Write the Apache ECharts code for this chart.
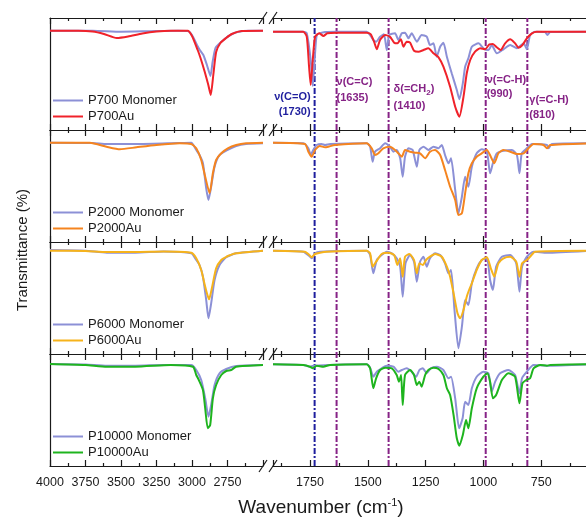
<!DOCTYPE html>
<html>
<head>
<meta charset="utf-8">
<title>FTIR spectra</title>
<script src="https://cdn.jsdelivr.net/npm/echarts@6/dist/echarts.min.js"></script>
<style>
  html, body { margin: 0; padding: 0; background: #fff; }
  #chart { width: 586px; height: 520px; }
</style>
</head>
<body>
<div id="chart"></div>
<script>
// ==================== data ====================
// samples (one panel each) and their Au curve colours
const samples = ['P700', 'P2000', 'P6000', 'P10000'];
const auColors = ['#f0222a', '#f5841f', '#f6b31b', '#1eb41e'];
const monomerColor = '#8c90d6';

// tick labels shown on the two halves of the broken axis
const leftTickLabels = [4000, 3750, 3500, 3250, 3000, 2750];
const rightTickLabels = [1750, 1500, 1250, 1000, 750];

// marked absorption bands
const bandWavenumbers = [1730, 1635, 1410, 990, 810];
const bandNames = ['ν(C=O)', 'ν(C=C)', 'δ(=CH2)', 'ν(=C-H)', 'γ(=C-H)'];

// spectra: [wavenumber (cm-1), transmittance (a.u., panel scale 0-112)]
const p700MonoLeft = [[4000, 99.3], [3700, 99.3], [3500, 98.3], [3300, 98.8], [3100, 99.3], [3030, 99], [3000, 95], [2965, 85], [2945, 80], [2920, 75], [2895, 65], [2870, 54], [2855, 68], [2835, 82], [2810, 86], [2770, 91], [2730, 95], [2680, 98], [2600, 99.3], [2500, 99.3]];
const p700AuLeft = [[4000, 99.3], [3800, 99.3], [3700, 98.5], [3620, 96], [3530, 92], [3450, 93.5], [3350, 96.5], [3250, 98.5], [3150, 99.3], [3030, 99.3], [3000, 94], [2960, 80], [2940, 72], [2910, 58], [2885, 45], [2868, 35], [2850, 55], [2830, 78], [2800, 87], [2760, 92], [2720, 96], [2650, 99], [2500, 99.3]];
const p700MonoRight = [[1910, 98.3], [1779, 98.3], [1764, 96.7], [1747, 70], [1738, 44], [1730, 70], [1721, 95], [1707, 96.7], [1685, 98], [1635, 98.3], [1505, 98.3], [1490, 95], [1476, 90], [1464, 88.3], [1447, 93.3], [1430, 95.7], [1418, 80], [1407, 95], [1382, 96.7], [1368, 90], [1353, 96.7], [1339, 97.3], [1324, 91.7], [1310, 96.7], [1288, 88.3], [1267, 95], [1245, 93.3], [1231, 85], [1216, 86.7], [1202, 73.3], [1187, 83.3], [1173, 87.3], [1158, 73.3], [1137, 56.7], [1115, 40], [1104, 30.7], [1089, 46.7], [1079, 63.3], [1065, 71.7], [1050, 83.3], [1021, 86.7], [1000, 81.7], [978, 80], [964, 85], [942, 76.7], [913, 80.7], [884, 85], [855, 81.7], [826, 86.7], [812, 80.7], [798, 95], [776, 98.3], [733, 98], [723, 95], [711, 98], [540, 98.3]];
const p700AuRight = [[1910, 98.3], [1779, 98.3], [1764, 93.3], [1754, 63.3], [1747, 45], [1738, 70], [1728, 93.3], [1710, 96.7], [1692, 94], [1675, 96.7], [1635, 97.3], [1505, 97.3], [1487, 95.7], [1473, 88.3], [1461, 80.7], [1447, 90], [1425, 95], [1404, 93.3], [1386, 87.3], [1372, 86.7], [1357, 90.7], [1346, 83.3], [1332, 88.3], [1317, 87.3], [1300, 79.3], [1281, 78.3], [1259, 80], [1238, 81.7], [1216, 76.7], [1194, 72.7], [1173, 63.3], [1144, 43.3], [1122, 23.3], [1104, 13.3], [1086, 33.3], [1072, 56.7], [1057, 70], [1036, 78.3], [1014, 81.7], [992, 80.7], [974, 85.7], [959, 86], [942, 82.7], [925, 80], [906, 86.7], [884, 90.7], [863, 86.7], [848, 82.3], [831, 85], [812, 91.7], [790, 96.7], [769, 98.3], [540, 98.3]];

const p2000MonoLeft = [[4000, 99.3], [3700, 99], [3600, 98], [3370, 98], [3100, 99], [3005, 99.3], [2970, 92], [2947, 87], [2923, 78.7], [2900, 53.7], [2884, 42], [2865, 55.3], [2841, 75.3], [2806, 87], [2759, 91.3], [2689, 96], [2619, 98], [2500, 98.7]];
const p2000AuLeft = [[4000, 99.3], [3720, 99.3], [3602, 95.3], [3508, 92.7], [3391, 94.7], [3251, 97], [3087, 98.7], [3005, 98], [2970, 93.7], [2935, 82], [2907, 65.3], [2876, 48.7], [2853, 68.7], [2830, 82], [2794, 88.7], [2748, 93.7], [2689, 97], [2619, 98.7], [2500, 99.3]];
const p2000MonoRight = [[1910, 99.3], [1779, 98.7], [1757, 93.7], [1747, 87], [1736, 92], [1721, 97], [1700, 98], [1685, 97], [1663, 98], [1505, 98.7], [1490, 95.3], [1479, 80.3], [1469, 90.3], [1447, 93.7], [1425, 98.7], [1404, 95.3], [1389, 90.3], [1375, 92], [1360, 83.7], [1349, 65.3], [1339, 85.3], [1324, 93.7], [1306, 92], [1288, 75.3], [1277, 92], [1259, 95.3], [1238, 92], [1216, 95.3], [1194, 93.7], [1180, 97], [1166, 87], [1151, 78.7], [1140, 83.7], [1122, 52], [1108, 28.7], [1093, 45.3], [1079, 65.3], [1065, 55.3], [1050, 75.3], [1029, 88.7], [1007, 92.7], [985, 90.3], [971, 68.7], [959, 78.7], [942, 88.7], [913, 91.3], [877, 92], [855, 87], [844, 68.7], [834, 88.7], [812, 93.7], [790, 98], [725, 97], [718, 93.7], [704, 98], [540, 98.7]];
const p2000AuRight = [[1910, 99.3], [1772, 98], [1757, 90.3], [1743, 85.3], [1728, 92], [1707, 96], [1685, 94.7], [1671, 95.3], [1642, 97], [1505, 98.7], [1483, 93.7], [1469, 87], [1454, 88.7], [1433, 93.7], [1404, 95.3], [1382, 92], [1368, 88.7], [1353, 85.3], [1339, 92], [1317, 90.3], [1295, 89.3], [1274, 88.7], [1252, 83.7], [1231, 90.3], [1209, 92], [1187, 87], [1166, 72], [1144, 55.3], [1122, 42], [1108, 27], [1093, 28.7], [1079, 48.7], [1065, 68.7], [1050, 78.7], [1029, 85.3], [1007, 88.7], [985, 92], [968, 85.3], [953, 78.7], [935, 88.7], [913, 92], [884, 90.3], [855, 88], [826, 88.7], [805, 93.7], [783, 98], [740, 97], [725, 93.7], [711, 97], [540, 98.7]];

const p6000MonoLeft = [[4000, 104], [3750, 103.3], [3600, 101.3], [3400, 101.3], [3200, 102.5], [3005, 100.7], [2970, 94], [2947, 89], [2923, 77.3], [2900, 54], [2884, 35.7], [2865, 50.7], [2841, 74], [2806, 89], [2759, 96.7], [2689, 100.7], [2500, 103.3]];
const p6000AuLeft = [[4000, 103.3], [3750, 103], [3600, 102], [3400, 102], [3200, 102.5], [3005, 101.3], [2970, 95.7], [2935, 84], [2907, 67.3], [2880, 54.7], [2858, 67.3], [2830, 85.7], [2794, 94], [2760, 97], [2748, 98], [2689, 100.7], [2500, 103.3]];
const p6000MonoRight = [[1910, 103.3], [1779, 102.3], [1753, 98], [1743, 95.7], [1728, 100.7], [1707, 102.3], [1505, 103.3], [1490, 99], [1476, 80.7], [1461, 94], [1440, 99], [1418, 102.3], [1396, 100.7], [1375, 95.7], [1360, 87.3], [1349, 57.3], [1337, 90.7], [1317, 99], [1300, 92.3], [1288, 72.3], [1274, 92.3], [1259, 97.3], [1245, 87.3], [1231, 95.7], [1209, 100.7], [1187, 99], [1166, 90.7], [1151, 80.7], [1140, 84], [1125, 44], [1108, 5.7], [1093, 27.3], [1079, 54], [1065, 49], [1050, 70.7], [1029, 85.7], [1007, 94], [985, 95.7], [971, 74], [959, 64], [945, 87.3], [920, 97.3], [884, 99], [858, 90.7], [844, 62.3], [833, 87.3], [812, 97.3], [783, 102.3], [725, 101.3], [540, 103.3]];
const p6000AuRight = [[1910, 103.3], [1772, 102.3], [1753, 99], [1743, 96.7], [1728, 100], [1707, 101.3], [1678, 102.3], [1505, 103.3], [1490, 100.7], [1479, 87.3], [1464, 92.3], [1440, 100], [1411, 101.3], [1386, 99], [1372, 89], [1360, 95.7], [1349, 77.3], [1339, 97.3], [1320, 100], [1300, 94], [1288, 80.7], [1277, 90.7], [1262, 89], [1248, 94], [1231, 97.3], [1209, 100], [1180, 97.3], [1158, 87.3], [1144, 77.3], [1129, 60.7], [1112, 40.7], [1101, 35.7], [1086, 44], [1072, 57.3], [1062, 64], [1050, 70.7], [1029, 84], [1007, 94], [985, 96.7], [968, 85.7], [953, 77.3], [935, 90.7], [913, 95.7], [884, 97.3], [858, 92.3], [844, 77.3], [833, 90.7], [812, 94], [798, 97.3], [776, 102.3], [540, 103.3]];

const p10000MonoLeft = [[4000, 102], [3750, 101.5], [3600, 100.3], [3400, 100.3], [3200, 101], [3005, 101], [2970, 96], [2935, 86], [2907, 67.7], [2884, 49.3], [2865, 61], [2841, 81], [2806, 92.7], [2759, 97], [2689, 100], [2500, 101]];
const p10000AuLeft = [[4000, 102], [3750, 101], [3600, 99.3], [3400, 99.3], [3150, 101], [2993, 99.3], [2970, 91], [2952, 86], [2923, 76], [2907, 57.7], [2889, 37.7], [2872, 41], [2853, 67.7], [2830, 81], [2794, 91], [2759, 95], [2724, 96], [2689, 99.3], [2500, 101]];
const p10000MonoRight = [[1910, 101.7], [1779, 101], [1750, 99.3], [1736, 100.3], [1505, 101.7], [1490, 98.3], [1476, 89.3], [1461, 94.3], [1440, 97.7], [1418, 100.3], [1389, 99.3], [1368, 94.3], [1353, 96], [1332, 97.7], [1310, 94.3], [1291, 89.3], [1277, 96], [1262, 97.7], [1245, 92.7], [1228, 97.7], [1202, 99.3], [1173, 96], [1151, 87.7], [1140, 89.3], [1122, 67.7], [1105, 37.7], [1090, 47.7], [1079, 64.3], [1065, 61], [1050, 77.7], [1029, 89.3], [1000, 94.3], [978, 92.7], [964, 74.3], [949, 84.3], [928, 92.7], [892, 96], [863, 91], [844, 72.7], [833, 87.7], [812, 94.3], [783, 101], [725, 100.3], [540, 101.7]];
const p10000AuRight = [[1910, 101.7], [1779, 101], [1750, 99.3], [1738, 97.7], [1721, 100.3], [1692, 99.3], [1663, 101], [1505, 101.7], [1490, 97.7], [1476, 77.7], [1464, 87.7], [1447, 96], [1425, 98.3], [1396, 97.7], [1375, 91], [1365, 84.3], [1356, 91], [1349, 61], [1339, 91], [1317, 96], [1300, 91], [1288, 81], [1277, 84.3], [1267, 79.3], [1252, 91], [1238, 96], [1216, 98.3], [1194, 97], [1173, 91], [1158, 77.7], [1144, 71], [1129, 51], [1115, 27.7], [1104, 20.3], [1089, 31], [1075, 46], [1065, 37.7], [1050, 57.7], [1029, 77.7], [1000, 89.3], [983, 92.7], [971, 84.3], [959, 67.7], [945, 71], [920, 86], [892, 92.7], [863, 89.3], [844, 62.7], [831, 82.7], [815, 86], [798, 87.7], [783, 97.7], [754, 101], [725, 100.3], [711, 101], [540, 101.7]];

const monomerLeft = [p700MonoLeft, p2000MonoLeft, p6000MonoLeft, p10000MonoLeft];
const monomerRight = [p700MonoRight, p2000MonoRight, p6000MonoRight, p10000MonoRight];
const auLeft = [p700AuLeft, p2000AuLeft, p6000AuLeft, p10000AuLeft];
const auRight = [p700AuRight, p2000AuRight, p6000AuRight, p10000AuRight];

// ==================== layout ====================
const FONT = '"Liberation Sans", Arial, sans-serif';
const AXIS_COLOR = '#1a1a1a';
const TEXT_COLOR = '#1a1a1a';
const BLUE = '#1f1f9e';
const PURPLE = '#862386';

const PANEL_TOP = 18;
const PANEL_H = 112;
const LEFT_X = 50, LEFT_W = 213;    // 4000 -> 2500
const RIGHT_X = 273, RIGHT_W = 326; // 1910 -> 500 (runs past the right edge)
const LEFT_MIN = 2500, LEFT_MAX = 4000;
const RIGHT_MIN = 500, RIGHT_MAX = 1910;

// annotation offsets from each band line (px)
const annotationLayout = [
  { dx: -4, align: 'right', y1: 97, y2: 112 },
  { dx: 0, align: 'left', y1: 82, y2: 98 },
  { dx: 5, align: 'left', y1: 89, y2: 106 },
  { dx: 1, align: 'left', y1: 80, y2: 94 },
  { dx: 2, align: 'left', y1: 100, y2: 115 }
];

const SpectraChart = {
  chart: null,

  init() {
    this.chart = echarts.init(document.getElementById('chart'), null, { renderer: 'canvas' });
    this.chart.setOption(this.getOption());
    this.chart.setOption({ graphic: this.getGraphics() });
  },

  makeGrid(left, width, top, height) {
    // no automatic shrinking: the right half deliberately runs off the canvas
    return { left, width, top, height, containLabel: false, outerBoundsMode: 'none' };
  },

  makeXAxis(gridIndex, side, position, withLabels) {
    const left = side === 'left';
    const labels = left ? leftTickLabels : rightTickLabels;
    const line = { color: AXIS_COLOR, width: 1.2 };
    return {
      type: 'value',
      gridIndex,
      position,
      inverse: true,
      min: left ? LEFT_MIN : RIGHT_MIN,
      max: left ? LEFT_MAX : RIGHT_MAX,
      interval: 250,
      axisLine: { show: true, onZero: false, lineStyle: line },
      axisTick: { show: true, inside: true, length: 6, lineStyle: line },
      minorTick: { show: true, splitNumber: 2, length: 3, lineStyle: line },
      splitLine: { show: false },
      minorSplitLine: { show: false },
      axisLabel: {
        show: withLabels,
        margin: 10,
        color: TEXT_COLOR,
        fontSize: 12.5,
        fontFamily: FONT,
        formatter: v => (labels.includes(v) ? String(v) : '')
      }
    };
  },

  makeYAxis(gridIndex, showLine) {
    return {
      type: 'value',
      gridIndex,
      min: 0,
      max: PANEL_H,
      axisLine: { show: showLine, lineStyle: { color: AXIS_COLOR, width: 1.2 } },
      axisTick: { show: false },
      axisLabel: { show: false },
      splitLine: { show: false }
    };
  },

  makeSeries(name, color, data, g) {
    return {
      name,
      type: 'line',
      xAxisIndex: g * 2,
      yAxisIndex: g,
      data,
      symbol: 'none',
      smooth: 0.2,
      lineStyle: { color, width: 2 },
      itemStyle: { color },
      silent: true,
      z: 3
    };
  },

  getOption() {
    const grid = [], xAxis = [], yAxis = [], series = [], legend = [];

    samples.forEach((sample, p) => {
      const top = PANEL_TOP + p * PANEL_H;
      const mono = `${sample} Monomer`;
      const au = `${sample}Au`;

      ['left', 'right'].forEach((side, s) => {
        const g = p * 2 + s;
        const isLeft = side === 'left';
        grid.push(this.makeGrid(isLeft ? LEFT_X : RIGHT_X, isLeft ? LEFT_W : RIGHT_W, top, PANEL_H));
        xAxis.push(this.makeXAxis(g, side, 'bottom', p === samples.length - 1));
        xAxis.push(this.makeXAxis(g, side, 'top', false));
        yAxis.push(this.makeYAxis(g, isLeft));
        series.push(this.makeSeries(mono, monomerColor, (isLeft ? monomerLeft : monomerRight)[p], g));
        series.push(this.makeSeries(au, auColors[p], (isLeft ? auLeft : auRight)[p], g));
      });

      legend.push({
        data: [mono, au],
        orient: 'vertical',
        left: LEFT_X + 3,
        top: top + 76,
        padding: 0,
        icon: 'rect',
        itemWidth: 30,
        itemHeight: 2,
        itemGap: 3,
        selectedMode: false,
        textStyle: { fontSize: 13, color: TEXT_COLOR, fontFamily: FONT }
      });
    });

    // overlay grid for the band marker lines (right half, all panels)
    const bandGrid = grid.length;
    grid.push(this.makeGrid(RIGHT_X, RIGHT_W, PANEL_TOP, PANEL_H * 4));
    this.bandXAxis = xAxis.length;
    xAxis.push({ type: 'value', gridIndex: bandGrid, inverse: true, min: RIGHT_MIN, max: RIGHT_MAX, show: false });
    const bandYAxis = yAxis.length;
    yAxis.push({ type: 'value', gridIndex: bandGrid, min: 0, max: 1, show: false });

    bandWavenumbers.forEach((wn, i) => {
      series.push({
        type: 'line',
        xAxisIndex: this.bandXAxis,
        yAxisIndex: bandYAxis,
        data: [[wn, 0], [wn, 1]],
        symbol: 'none',
        silent: true,
        lineStyle: { color: i === 0 ? BLUE : PURPLE, width: 2, type: [6, 2, 2, 2] },
        z: 2
      });
    });

    // invisible full-size grid carrying the axis titles
    const titleGrid = grid.length;
    grid.push(this.makeGrid(LEFT_X, 542, 34, PANEL_TOP + PANEL_H * 4 - 34));
    xAxis.push({
      type: 'value',
      gridIndex: titleGrid,
      axisLine: { show: false },
      axisTick: { show: false },
      axisLabel: { show: false },
      splitLine: { show: false },
      name: 'Wavenumber (cm{sup|-1})',
      nameLocation: 'middle',
      nameGap: 31,
      nameTextStyle: {
        fontSize: 19,
        color: TEXT_COLOR,
        fontFamily: FONT,
        rich: { sup: { fontSize: 11, color: TEXT_COLOR, fontFamily: FONT, verticalAlign: 'top', lineHeight: 22 } }
      }
    });
    yAxis.push({
      type: 'value',
      gridIndex: titleGrid,
      axisLine: { show: false },
      axisTick: { show: false },
      axisLabel: { show: false },
      splitLine: { show: false },
      name: 'Transmittance (%)',
      nameLocation: 'middle',
      nameGap: 20,
      nameRotate: 90,
      nameTextStyle: { fontSize: 15, color: TEXT_COLOR, fontFamily: FONT }
    });

    return {
      animation: false,
      backgroundColor: '#fff',
      grid,
      xAxis,
      yAxis,
      legend,
      series
    };
  },

  getGraphics() {
    const graphics = [];

    // axis break marks "//" on every horizontal axis line
    for (let i = 0; i <= samples.length; i++) {
      const y = PANEL_TOP + i * PANEL_H;
      [LEFT_X + LEFT_W, RIGHT_X].forEach(cx => {
        graphics.push({
          type: 'line',
          shape: { x1: cx - 4, y1: y + 6, x2: cx + 4, y2: y - 6 },
          style: { stroke: AXIS_COLOR, lineWidth: 1.2 },
          silent: true,
          z: 10
        });
      });
    }

    // band annotations next to the marker lines
    bandWavenumbers.forEach((wn, i) => {
      const lx = this.chart.convertToPixel({ xAxisIndex: this.bandXAxis }, wn);
      const lay = annotationLayout[i];
      const color = i === 0 ? BLUE : PURPLE;
      const base = {
        fill: color,
        font: `bold 11px ${FONT}`,
        align: lay.align,
        textAlign: lay.align,
        verticalAlign: 'middle',
        textVerticalAlign: 'middle'
      };
      graphics.push({
        type: 'text',
        x: lx + lay.dx,
        y: lay.y1,
        silent: true,
        z: 10,
        style: Object.assign({}, base, {
          text: bandNames[i].replace('CH2', 'CH{s|2}'),
          rich: { s: { fill: color, font: `bold 8px ${FONT}`, verticalAlign: 'bottom', lineHeight: 16 } }
        })
      });
      graphics.push({
        type: 'text',
        x: lx + lay.dx,
        y: lay.y2,
        silent: true,
        z: 10,
        style: Object.assign({}, base, { text: `(${wn})` })
      });
    });

    return graphics;
  }
};

SpectraChart.init();
</script>
</body>
</html>
